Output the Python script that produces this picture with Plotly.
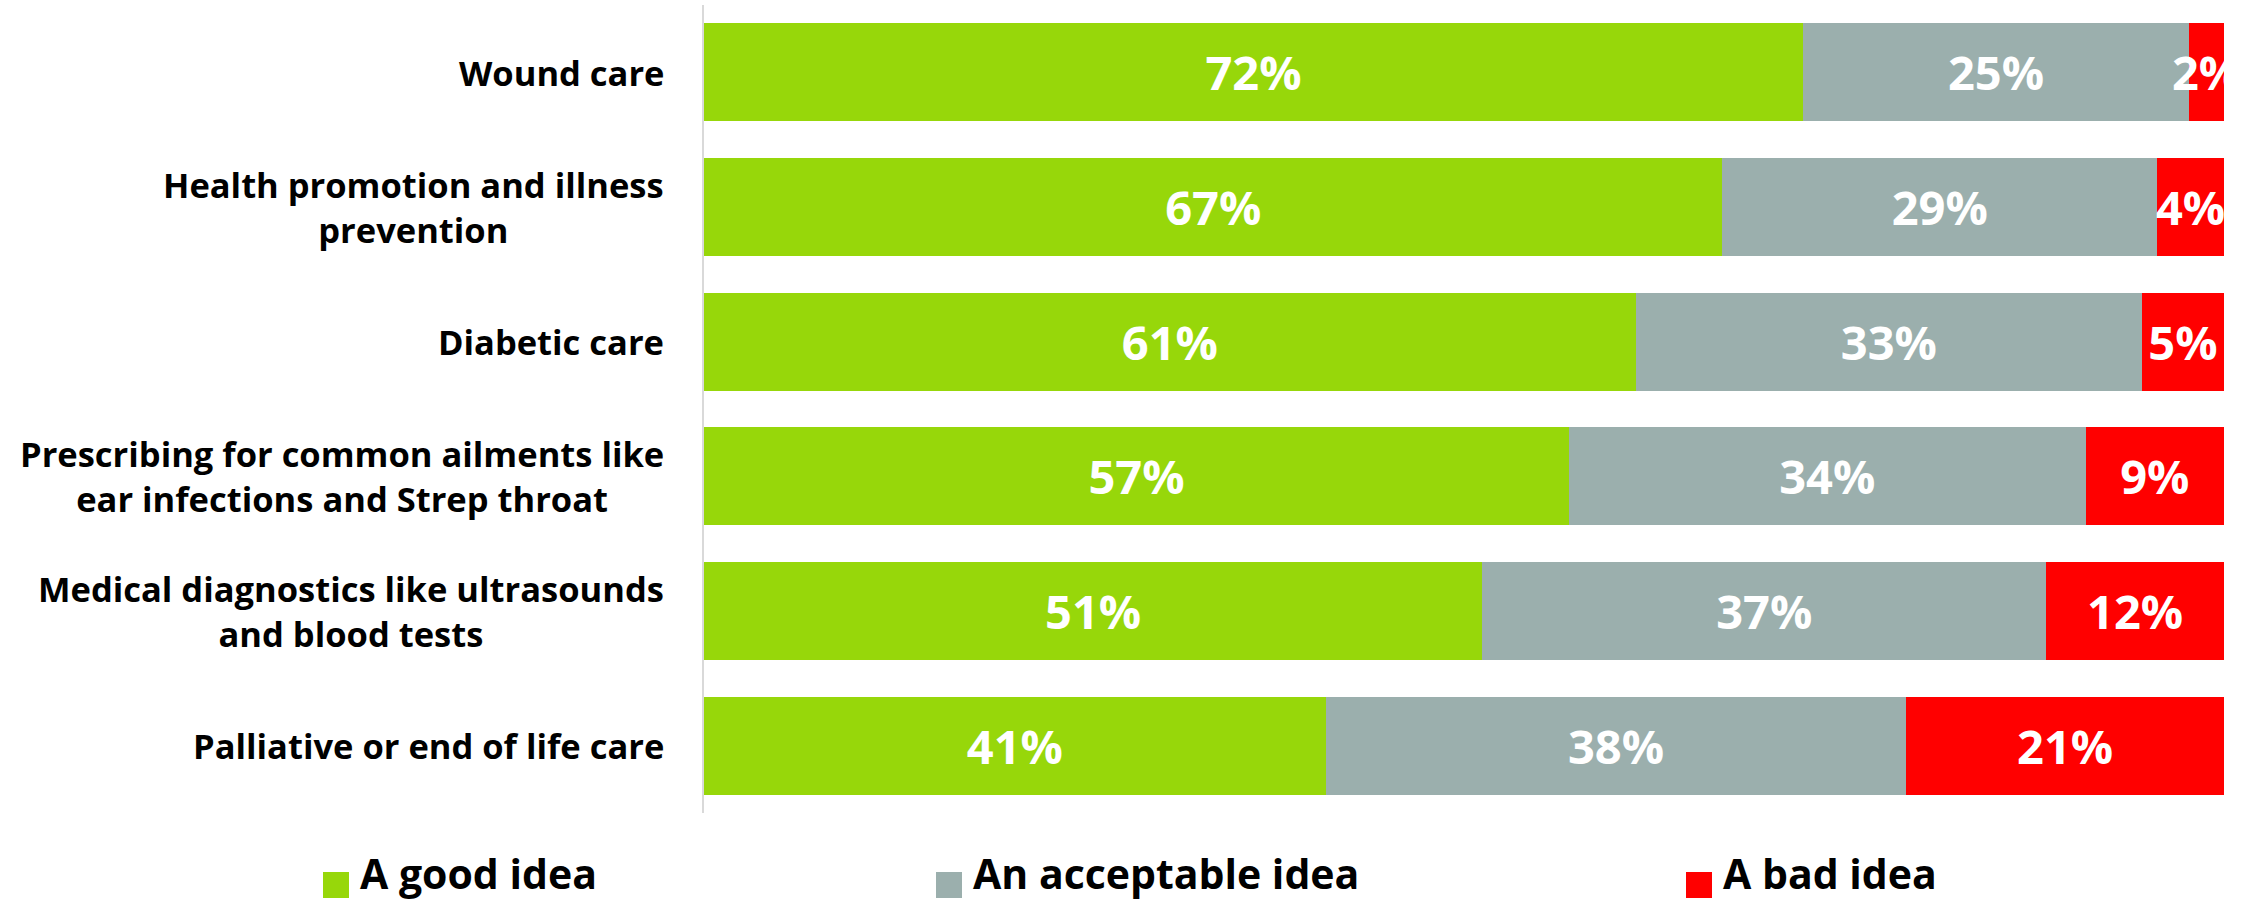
import plotly.graph_objects as go

# ---- data ----
categories = [
    "Wound care",
    "Health promotion and illness<br>prevention",
    "Diabetic care",
    "Prescribing for common ailments like<br>ear infections and Strep throat",
    "Medical diagnostics like ultrasounds<br>and blood tests",
    "Palliative or end of life care",
]
good = [72.3, 67.0, 61.3, 56.9, 51.2, 40.9]
acceptable = [25.4, 28.6, 33.3, 34.0, 37.1, 38.2]
bad = [2.3, 4.4, 5.4, 9.1, 11.7, 20.9]
series_names = ["A good idea", "An acceptable idea", "A bad idea"]

# ---- style ----
colors = ["#97D70A", "#9BAFAD", "#FF0000"]
FONT = "Open Sans"
W, H = 2241, 903
ML, MR, MT, MB = 704, 17, 5, 90
PW, PH = W - ML - MR, H - MT - MB


def px_x(p):
    return (p - ML) / PW


def px_y(p):
    return (H - MB - p) / PH


fig = go.Figure()
for name, vals, col in zip(series_names, [good, acceptable, bad], colors):
    fig.add_trace(go.Bar(
        y=categories, x=vals, name=name, orientation="h",
        marker=dict(color=col, line=dict(width=0)),
        texttemplate="%{x:.0f}%", textposition="inside", textangle=0,
        insidetextanchor="middle",
        textfont=dict(family=FONT, size=47, color="white", weight="bold"),
        showlegend=False, cliponaxis=True,
    ))

annotations = []
for c in categories:
    annotations.append(dict(
        xref="paper", yref="y", x=px_x(666), y=c, text=c,
        xanchor="right", yanchor="middle", align="center", showarrow=False,
        font=dict(family=FONT, size=34.5, color="black", weight="bold"),
    ))

shapes = []
legend_sq = [(323, 349), (936, 962), (1686, 1712)]
for (x0, x1), col, name in zip(legend_sq, colors, series_names):
    shapes.append(dict(type="rect", xref="paper", yref="paper",
                       x0=px_x(x0), x1=px_x(x1), y0=px_y(898), y1=px_y(872),
                       fillcolor=col, line=dict(width=0)))
    annotations.append(dict(
        xref="paper", yref="paper", x=px_x(x1 + 9), y=px_y(873), text=name,
        xanchor="left", yanchor="middle", showarrow=False,
        font=dict(family=FONT, size=41, color="black", weight="bold"),
    ))

fig.update_layout(
    barmode="stack", bargap=0.27,
    width=W, height=H,
    margin=dict(l=ML, r=MR, t=MT, b=MB),
    plot_bgcolor="white", paper_bgcolor="white",
    uniformtext=dict(mode="show", minsize=47),
    xaxis=dict(range=[0, 100], visible=False, fixedrange=True),
    yaxis=dict(autorange="reversed", showticklabels=False, showgrid=False,
               zeroline=False, showline=True, linecolor="#D9D9D9", linewidth=2,
               ticks="", fixedrange=True),
    annotations=annotations, shapes=shapes,
)

fig.write_html("out.html", config={"displayModeBar": False},
               post_script="document.body.style.margin='0';")
